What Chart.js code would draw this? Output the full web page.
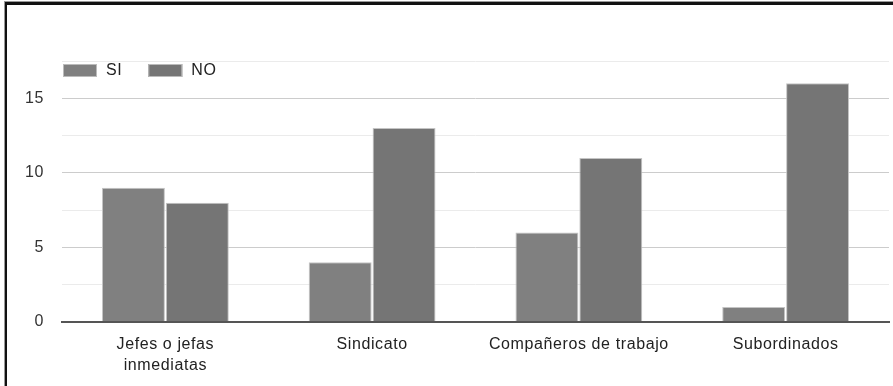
<!DOCTYPE html>
<html>
<head>
  <meta charset="utf-8">
  <title>SI / NO</title>
  <script src="https://cdn.jsdelivr.net/npm/chart.js"></script>
  <style>
    body { margin: 0; background: #fff; }
    #wrap { position: relative; width: 893px; height: 386px; }
    #frame {
      position: absolute; left: 5px; top: 2px; right: -10px; bottom: -10px;
      border-top: 3px solid #111; border-left: 2px solid #111;
      box-shadow: -1px -1px 0 #999;
    }
    canvas { position: absolute; left: 0; top: 0; }
  </style>
</head>
<body>
  <div id="wrap">
    <canvas id="chart" width="893" height="386"></canvas>
    <div id="frame"></div>
  </div>

  <script>
    // datos
    let categories = [["Jefes o jefas", "inmediatas"], "Sindicato", "Compañeros de trabajo", "Subordinados"];
    let siValues = [9, 4, 6, 1];
    let noValues = [8, 13, 11, 16];
    let seriesNames = ["SI", "NO"];
    let seriesColors = ["#808080", "#757575"];

    let fontFamily = "'Liberation Sans', Arial, sans-serif";

    // el texto del original es un poco más espaciado
    let spacing = {
      id: "spacing",
      beforeDraw(chart) { chart.ctx.letterSpacing = "0.6px"; }
    };

    // leyenda dentro del área del gráfico, arriba a la izquierda
    let insideLegend = {
      id: "insideLegend",
      afterDraw(chart) {
        let ctx = chart.ctx;
        let x = chart.chartArea.left + 1;
        let y = 64;
        ctx.save();
        ctx.font = "16px " + fontFamily;
        ctx.textBaseline = "middle";
        chart.data.datasets.forEach(function(ds) {
          ctx.fillStyle = ds.backgroundColor;
          ctx.fillRect(x, y, 34, 13);
          ctx.strokeStyle = "#bbb";
          ctx.lineWidth = 1;
          ctx.strokeRect(x + 0.5, y + 0.5, 33, 12);
          ctx.fillStyle = "#222";
          ctx.fillText(ds.label, x + 43, y + 7);
          x += 43 + ctx.measureText(ds.label).width + 26;
        });
        ctx.restore();
      }
    };

    new Chart(document.getElementById("chart"), {
      type: "bar",
      data: {
        labels: categories,
        datasets: [
          { label: seriesNames[0], data: siValues, backgroundColor: seriesColors[0] },
          { label: seriesNames[1], data: noValues, backgroundColor: seriesColors[1] }
        ]
      },
      options: {
        responsive: false,
        animation: false,
        layout: { padding: { top: 61, right: 4, left: 0, bottom: 0 } },
        datasets: {
          bar: {
            categoryPercentage: 0.618,
            barPercentage: 0.985,
            borderColor: "#c4c4c4",
            borderWidth: 1,
            borderSkipped: "bottom"
          }
        },
        plugins: {
          legend: { display: false },
          tooltip: { enabled: false }
        },
        scales: {
          x: {
            afterFit(s) { s.height = 64; },
            grid: { display: false },
            border: { color: "#555", width: 2 },
            ticks: {
              color: "#222",
              padding: 4,
              maxRotation: 0,
              font: { family: fontFamily, size: 16, lineHeight: 1.3 }
            }
          },
          y: {
            min: 0,
            max: 17.5,
            afterFit(s) { s.width = 62; },
            border: { display: false },
            grid: {
              drawTicks: false,
              color: function(c) {
                if (c.tick.value === 0) return "#555";
                return c.tick.value % 5 === 0 ? "#cccccc" : "#ebebeb";
              },
              lineWidth: function(c) { return c.tick.value === 0 ? 2 : 1; }
            },
            ticks: {
              stepSize: 2.5,
              padding: 18,
              color: "#333",
              font: { family: fontFamily, size: 16 },
              callback: function(v) { return v % 5 === 0 ? v : ""; }
            }
          }
        }
      },
      plugins: [spacing, insideLegend]
    });
  </script>
</body>
</html>
